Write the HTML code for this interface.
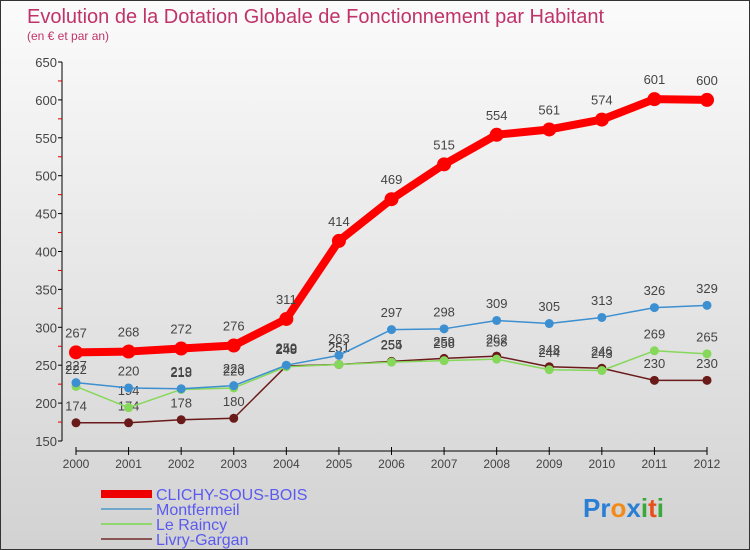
<!DOCTYPE html>
<html><head><meta charset="utf-8"><style>
body{margin:0}
#wrap{position:relative;width:748px;height:548px;border:1px solid #333;background:linear-gradient(#fbfbfb,#d2d2d2);font-family:"Liberation Sans",sans-serif;overflow:hidden}
</style></head><body>
<div id="wrap">
<svg id="c" width="748" height="548" xmlns="http://www.w3.org/2000/svg">
<text x="26" y="22" font-size="20" fill="#c0336a">Evolution de la Dotation Globale de Fonctionnement par Habitant</text>
<text x="26" y="39" font-size="12" fill="#c0336a">(en € et par an)</text>
<g id="axes"></g><g id="series"></g>
<g>
<rect x="100" y="489" width="51" height="8" fill="#e00"/>
<text x="155" y="499" font-size="16" fill="#5a5af0">CLICHY-SOUS-BOIS</text>
<rect x="100" y="507" width="51" height="2" fill="#6fa8cc"/>
<text x="155" y="514" font-size="16" fill="#5a5af0">Montfermeil</text>
<rect x="100" y="522" width="51" height="2" fill="#8fd66f"/>
<text x="155" y="529" font-size="16" fill="#5a5af0">Le Raincy</text>
<rect x="100" y="537" width="51" height="2" fill="#8a5555"/>
<text x="155" y="544" font-size="16" fill="#5a5af0">Livry-Gargan</text>
</g>
<text x="582" y="516" font-size="26" font-weight="bold"><tspan fill="#2a7fd4">Pr</tspan><tspan fill="#f28a1a">o</tspan><tspan fill="#2a7fd4">x</tspan><tspan fill="#3aa83a">i</tspan><tspan fill="#e8501a">t</tspan><tspan fill="#3aa83a">i</tspan></text>
</svg>
</div>
<script>
const years=[2000,2001,2002,2003,2004,2005,2006,2007,2008,2009,2010,2011,2012];
const clichy=[267,268,272,276,311,414,469,515,554,561,574,601,600];
const montfermeil=[227,220,219,223,250,263,297,298,309,305,313,326,329];
const raincy=[222,194,218,220,248,251,254,256,258,244,243,269,265];
const livry=[174,174,178,180,249,251,255,259,262,248,246,230,230];
const yTicks=[150,200,250,300,350,400,450,500,550,600,650];
const NS="http://www.w3.org/2000/svg";
function X(i){return 75+i*(706-75)/(years.length-1);}
function Y(v){return 440-(v-150)*(440-61)/500;}
function mk(t,a,p){const e=document.createElementNS(NS,t);for(const k in a)e.setAttribute(k,a[k]);p.appendChild(e);return e;}
const ax=document.getElementById('axes'),sg=document.getElementById('series');
let e=mk('line',{x1:61,y1:61,x2:61,y2:440,stroke:'#000'},ax);


yTicks.forEach((v,i)=>{
  mk('line',{x1:57,x2:61,y1:Y(v),y2:Y(v),stroke:'#000'},ax);
  if(i<yTicks.length-1)mk('line',{x1:57,x2:61,y1:Y(v+25),y2:Y(v+25),stroke:'#d00'},ax);
  const t=mk('text',{x:56,y:Y(v)+5,'font-size':13,fill:'#444','text-anchor':'end'},ax);
  t.textContent=v;
  
  
});
e=mk('line',{x1:75,y1:450,x2:706,y2:450,stroke:'#000'},ax);


years.forEach((y,i)=>{
  mk('line',{x1:X(i),x2:X(i),y1:446,y2:454,stroke:'#000'},ax);
  const t=mk('text',{x:X(i),y:467,'font-size':12,fill:'#444','text-anchor':'middle'},ax);
  t.textContent=y;
  
  
});
function draw(vals,name,color,w,r){
  const g=mk('g',{},sg);
  
  
  mk('polyline',{points:vals.map((v,i)=>X(i)+','+Y(v)).join(' '),fill:'none',stroke:color,'stroke-width':w,'stroke-linejoin':'round'},g);
  vals.forEach((v,i)=>{
    const c=mk('circle',{cx:X(i),cy:Y(v),r:r,fill:color},g);
    
    
    const t=mk('text',{x:X(i),y:Y(v)-(r+8),'font-size':13,fill:'#444','text-anchor':'middle'},g);
    t.textContent=v;
    
    
  });
}
draw(livry,'livry-gargan','#6b1a1a',1.5,4.5);
draw(raincy,'le-raincy','#86d85a',1.5,4.5);
draw(montfermeil,'montfermeil','#3c8fd0',1.5,4.5);
draw(clichy,'clichy-sous-bois','#f00',8,7);
</script>
</body></html>
